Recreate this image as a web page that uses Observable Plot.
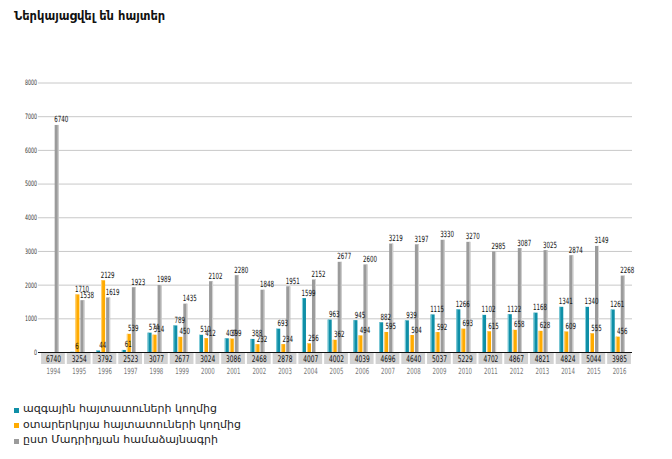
<!DOCTYPE html>
<html>
<head>
<meta charset="utf-8">
<script src="https://cdn.jsdelivr.net/npm/d3@7"></script>
<script src="https://cdn.jsdelivr.net/npm/@observablehq/plot@0.6"></script>
<style>
  body { margin: 0; background: #fff; width: 672px; height: 459px; position: relative; overflow: hidden; font-family: "DejaVu Sans", sans-serif; }
  #title { position: absolute; left: 14px; top: 9px; font-size: 11.5px; font-weight: bold; color: #111; }
  #chart { position: absolute; left: 0; top: 30px; }
  #legend { position: absolute; left: 14px; top: 401px; font-size: 11px; color: #222; }
  #legend .item { height: 15.5px; line-height: 15.5px; white-space: nowrap; }
  #legend .sw { display: inline-block; width: 5px; height: 5px; margin-right: 4px; vertical-align: middle; position: relative; top: 1px; }
</style>
</head>
<body>
<div id="title">Ներկայացվել են հայտեր</div>
<div id="chart"></div>
<div id="legend"></div>
<script>
const years = ["1994","1995","1996","1997","1998","1999","2000","2001","2002","2003","2004","2005","2006","2007","2008","2009","2010","2011","2012","2013","2014","2015","2016"];
const national = [0, 6, 44, 61, 574, 789, 510, 407, 388, 693, 1599, 963, 945, 882, 939, 1115, 1266, 1102, 1122, 1168, 1341, 1340, 1261];
const foreign  = [0, 1710, 2129, 539, 514, 450, 412, 399, 232, 234, 256, 362, 494, 595, 504, 592, 693, 615, 658, 628, 609, 555, 456];
const madrid   = [6740, 1538, 1619, 1923, 1989, 1435, 2102, 2280, 1848, 1951, 2152, 2677, 2600, 3219, 3197, 3330, 3270, 2985, 3087, 3025, 2874, 3149, 2268];
const totals   = [6740, 3254, 3792, 2523, 3077, 2677, 3024, 3086, 2468, 2878, 4007, 4002, 4039, 4696, 4640, 5037, 5229, 4702, 4867, 4821, 4824, 5044, 3985];
const yTicks = [0, 1000, 2000, 3000, 4000, 5000, 6000, 7000, 8000];
const seriesNames = ["ազգային հայտատուների կողմից", "օտարերկրյա հայտատուների կողմից", "ըստ Մադրիդյան համաձայնագրի"];
const colors = ["#0f8fa7", "#ffab00", "#9b9b9b"];
const lights = ["#86cfdc", "#ffd47e", "#d6d6d6"];

const series = [national, foreign, madrid];
const offsets = [-6.3, -1.3, 3.7];
const rows = years.map((y, i) => ({year: y, total: totals[i]}));

const numFont = "'DejaVu Sans', sans-serif";
const barW = 4;
const W = 672, H = 355, mL = 38, mR = 40;
const xRange = [40.1, 631.9];
const band = (xRange[1] - xRange[0]) / years.length;
const inset = (band - barW) / 2;

const marks = [];
marks.push(Plot.ruleY(yTicks.filter(d => d > 0), {stroke: "#c8c8c8", strokeWidth: 1}));
// table row cells
marks.push(Plot.barY(rows, {x: "year", y1: -30, y2: -356, fill: "#d2d2d2", insetLeft: 1, insetRight: 1}));
marks.push(Plot.text(rows, {x: "year", text: d => String(d.total), frameAnchor: "bottom", dy: 6.5, lineAnchor: "middle", fontSize: 9.2, fill: "#111", fontFamily: numFont}));
marks.push(Plot.text(rows, {x: "year", text: "year", frameAnchor: "bottom", dy: 19, lineAnchor: "middle", fontSize: 8.5, fill: "#777", fontFamily: numFont}));

const seriesData = series.map(vals => years.map((y, i) => ({year: y, value: vals[i]})).filter(d => d.value > 0));
seriesData.forEach((data, s) => {
  marks.push(Plot.barY(data, {x: "year", y: "value", fill: colors[s], insetLeft: inset, insetRight: inset, dx: offsets[s]}));
  const lightDx = s === 2 ? offsets[s] + barW - 1 : offsets[s];
  marks.push(Plot.barY(data, {x: "year", y: "value", fill: lights[s], insetLeft: inset, insetRight: inset + barW - 1, dx: lightDx}));
});
seriesData.forEach((data, s) => {
  marks.push(Plot.text(data, {x: "year", y: "value", text: d => String(d.value), dx: offsets[s] + 4, dy: -3, lineAnchor: "bottom", fontSize: 8.6, fill: "#111", fontFamily: numFont}));
});
marks.push(Plot.ruleY([0], {stroke: "#111", strokeWidth: 1}));

const chart = Plot.plot({
  width: W, height: H,
  marginTop: 52.5, marginBottom: 33, marginLeft: mL, marginRight: mR,
  x: {type: "band", domain: years, padding: 0, round: false, range: xRange, axis: null},
  y: {domain: [0, 8000], ticks: yTicks, tickSize: 0, tickPadding: 1.5, label: null, tickFormat: d => String(d)},
  style: {fontFamily: numFont, fontSize: "7.4px", color: "#333", background: "#fff"},
  marks
});
document.getElementById("chart").appendChild(chart);

// condense numeric labels horizontally (reference uses a narrow face)
const sx = 0.64;
chart.querySelectorAll("text").forEach(t => {
  const x = parseFloat(t.getAttribute("x") || "0");
  const tr = t.getAttribute("transform") || "";
  t.setAttribute("transform", `${tr} translate(${x},0) scale(${sx},1)`);
  t.setAttribute("x", 0);
});

const legend = document.getElementById("legend");
seriesNames.forEach((n, i) => {
  const div = document.createElement("div");
  div.className = "item";
  div.innerHTML = `<span class="sw" style="background:${colors[i]}"></span>${n}`;
  legend.appendChild(div);
});
</script>
</body>
</html>
